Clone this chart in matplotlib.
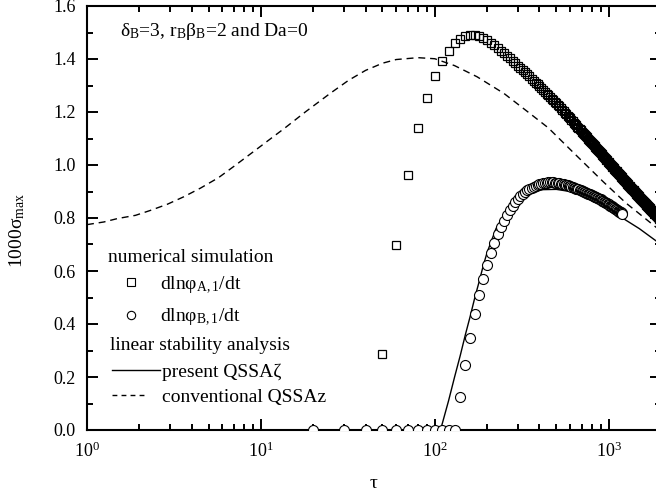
import numpy as np
import matplotlib
matplotlib.use("Agg")
import matplotlib.pyplot as plt
from matplotlib.ticker import MultipleLocator, FormatStrFormatter

plt.rcParams['font.family'] = ['Liberation Serif', 'DejaVu Serif']
plt.rcParams['mathtext.fontset'] = 'custom'
plt.rcParams['mathtext.rm'] = 'Liberation Serif'
plt.rcParams['mathtext.it'] = 'Liberation Serif:italic'
plt.rcParams['mathtext.bf'] = 'Liberation Serif:bold'

# numerical simulation, dln(phi_A,1)/dt  (tau = 50, 60, ..., 2000)
tau_a = list(range(50, 2010, 10))
sig_a = [0.287, 0.698, 0.962, 1.139, 1.254, 1.336, 1.393, 1.430, 1.459, 1.476,
         1.486, 1.490, 1.490, 1.486, 1.480,
         1.472, 1.461, 1.451, 1.440, 1.430, 1.421, 1.411, 1.402, 1.393, 1.384,
         1.375, 1.367, 1.359, 1.350, 1.342, 1.334, 1.326, 1.318, 1.311, 1.304,
         1.297, 1.290, 1.283, 1.276, 1.269, 1.263, 1.257, 1.250, 1.244, 1.238,
         1.233, 1.227, 1.221, 1.215, 1.209, 1.203, 1.198, 1.192, 1.186, 1.181,
         1.176, 1.171, 1.165, 1.160, 1.155, 1.150, 1.145, 1.140, 1.136, 1.131,
         1.126, 1.122, 1.117, 1.113, 1.108, 1.104, 1.099, 1.095, 1.091, 1.087,
         1.083, 1.079, 1.075, 1.071, 1.067, 1.063, 1.059, 1.055, 1.052, 1.048,
         1.044, 1.041, 1.037, 1.034, 1.030, 1.027, 1.023, 1.020, 1.017, 1.013,
         1.010, 1.007, 1.004, 1.000, 0.997, 0.994, 0.991, 0.988, 0.985, 0.982,
         0.979, 0.976, 0.973, 0.970, 0.967, 0.965, 0.962, 0.959, 0.956, 0.953,
         0.951, 0.948, 0.945, 0.943, 0.940, 0.937, 0.935, 0.932, 0.930, 0.927,
         0.925, 0.922, 0.920, 0.918, 0.915, 0.913, 0.910, 0.908, 0.906, 0.904,
         0.901, 0.899, 0.897, 0.895, 0.892, 0.890, 0.888, 0.886, 0.884, 0.882,
         0.880, 0.877, 0.875, 0.873, 0.871, 0.869, 0.867, 0.865, 0.863, 0.861,
         0.859, 0.857, 0.855, 0.853, 0.851, 0.850, 0.848, 0.846, 0.844, 0.842,
         0.840, 0.839, 0.837, 0.835, 0.833, 0.831, 0.830, 0.828, 0.826, 0.825,
         0.823, 0.821, 0.820, 0.818, 0.816, 0.815, 0.813, 0.811, 0.810, 0.808,
         0.807, 0.805, 0.804, 0.802, 0.800, 0.799, 0.797, 0.796, 0.794, 0.793,
         0.791]

# numerical simulation, dln(phi_B,1)/dt  (tau = 20, 30, ..., 1200)
tau_b = list(range(20, 1210, 10))
sig_b = [0.0, 0.0, 0.0, 0.0, 0.0, 0.0, 0.0, 0.0, 0.0, 0.0, 0.0, 0.0,
         0.123, 0.245, 0.348, 0.437, 0.509, 0.570, 0.623, 0.667, 0.705, 0.738,
         0.766, 0.790, 0.812, 0.830, 0.846, 0.860, 0.872, 0.882, 0.891, 0.898,
         0.904, 0.910, 0.914, 0.918, 0.922, 0.925, 0.927, 0.929, 0.931, 0.932,
         0.933, 0.934, 0.934, 0.934, 0.934, 0.933, 0.933,
         0.932, 0.931, 0.930, 0.929, 0.928, 0.926, 0.925, 0.923, 0.922, 0.920,
         0.918, 0.917, 0.915, 0.913, 0.911, 0.910, 0.908, 0.906, 0.905, 0.903,
         0.901, 0.899, 0.898, 0.896, 0.894, 0.892, 0.891, 0.889, 0.887, 0.886,
         0.884, 0.883, 0.881, 0.879, 0.878, 0.876, 0.875, 0.873, 0.871, 0.870,
         0.868, 0.866, 0.864, 0.862, 0.860, 0.858, 0.856, 0.855, 0.853, 0.851,
         0.849, 0.847, 0.846, 0.844, 0.842, 0.840, 0.838, 0.837, 0.835, 0.833,
         0.831, 0.829, 0.828, 0.826, 0.824, 0.822, 0.821, 0.819, 0.817, 0.815]

# linear stability analysis, present QSSA zeta
tau_p = [100, 108, 110, 120, 130, 140, 150, 160, 170, 180, 190, 200, 225, 260,
         300, 350, 420, 500, 600, 700, 850, 1000, 1200, 1500, 2000]
sig_p = [0.0, 0.0, 0.02, 0.11, 0.20, 0.28, 0.36, 0.43, 0.50, 0.56, 0.62, 0.67,
         0.76, 0.83, 0.87, 0.895, 0.907, 0.908, 0.900, 0.890, 0.862, 0.835,
         0.800, 0.760, 0.700]

# linear stability analysis, conventional QSSA z
tau_c = [1, 1.25, 1.5, 1.9, 2.3, 2.9, 3.6, 4.5, 5.7, 7.0, 8.8, 11, 13.7, 18,
         25, 32, 40, 50, 60, 80, 100, 130, 175, 250, 350, 450, 620, 930, 1260,
         1450, 2000]
sig_c = [0.775, 0.785, 0.798, 0.810, 0.828, 0.852, 0.880, 0.913, 0.952, 0.995,
         1.044, 1.092, 1.139, 1.200, 1.270, 1.320, 1.357, 1.384, 1.398, 1.405,
         1.401, 1.375, 1.333, 1.270, 1.196, 1.140, 1.050, 0.937, 0.856, 0.824,
         0.750]

fig = plt.figure(figsize=(6.56, 4.96), dpi=100)
ax = fig.add_axes([87/656, 66/496, 574/656, 424/496])

ax.plot(tau_p, sig_p, color='k', lw=1.0, zorder=2)
ax.plot(tau_c, sig_c, color='k', lw=1.0, dashes=(5, 3.5), zorder=2)
ax.plot(tau_a, sig_a, ls='none', marker='s', ms=6.3, mfc='none', mec='k',
        mew=0.9, zorder=3)
ax.plot(tau_b, sig_b, ls='none', marker='o', ms=7.2, mfc='white', mec='k',
        mew=0.8, zorder=3)

ax.set_xscale('log')
ax.set_xlim(1, 2000)
ax.set_ylim(0, 1.6)
ax.yaxis.set_major_locator(MultipleLocator(0.2))
ax.yaxis.set_minor_locator(MultipleLocator(0.1))
ax.yaxis.set_major_formatter(FormatStrFormatter('%.1f'))

for s in ax.spines.values():
    s.set_linewidth(1.5)
ax.tick_params(which='both', direction='in', top=True, right=True,
               width=1.4, labelsize=13)
ax.tick_params(which='major', length=8, pad=8)
ax.tick_params(which='minor', length=4.5)

ax.set_xlabel(r'τ', fontsize=14)
ax.xaxis.set_label_coords(0.5, -0.105)
ax.set_ylabel(r'1000$\mathrm{σ}_{\mathrm{max}}$', fontsize=14)
ax.yaxis.set_label_coords(-0.105, 0.47)

fs = 14
ax.text(0.0575, 0.929, r'$\mathrm{δ}_{\mathrm{B}}$=3, $\mathrm{r}_{\mathrm{B}}\mathrm{β}_{\mathrm{B}}$=2 and Da=0',
        transform=ax.transAxes, fontsize=fs, va='baseline')

# legend block
tr = ax.transAxes
ax.text(0.0366, 0.396, 'numerical simulation', transform=tr, fontsize=fs, va='baseline')
ax.plot([0.0767], [0.349], transform=tr, marker='s', ms=5.5, mfc='white', mec='k', mew=0.8)
ax.text(0.127, 0.3325, r'dln$\mathrm{φ}_{\mathrm{A,1}}$/dt', transform=tr, fontsize=fs, va='baseline')
ax.plot([0.0767], [0.271], transform=tr, marker='o', ms=6.0, mfc='white', mec='k', mew=0.8)
ax.text(0.127, 0.257, r'dln$\mathrm{φ}_{\mathrm{B,1}}$/dt', transform=tr, fontsize=fs, va='baseline')
ax.text(0.040, 0.1887, 'linear stability analysis', transform=tr, fontsize=fs, va='baseline')
ax.plot([0.0436, 0.127], [0.1415, 0.1415], transform=tr, color='k', lw=1.0)
ax.text(0.1307, 0.125, 'present QSSAζ', transform=tr, fontsize=fs, va='baseline')
ax.plot([0.0436, 0.1045], [0.0825, 0.0825], transform=tr, color='k', lw=1.0, dashes=(3.5, 3))
ax.text(0.1307, 0.066, 'conventional QSSAz', transform=tr, fontsize=fs, va='baseline')

plt.savefig("out.png", dpi=100)
